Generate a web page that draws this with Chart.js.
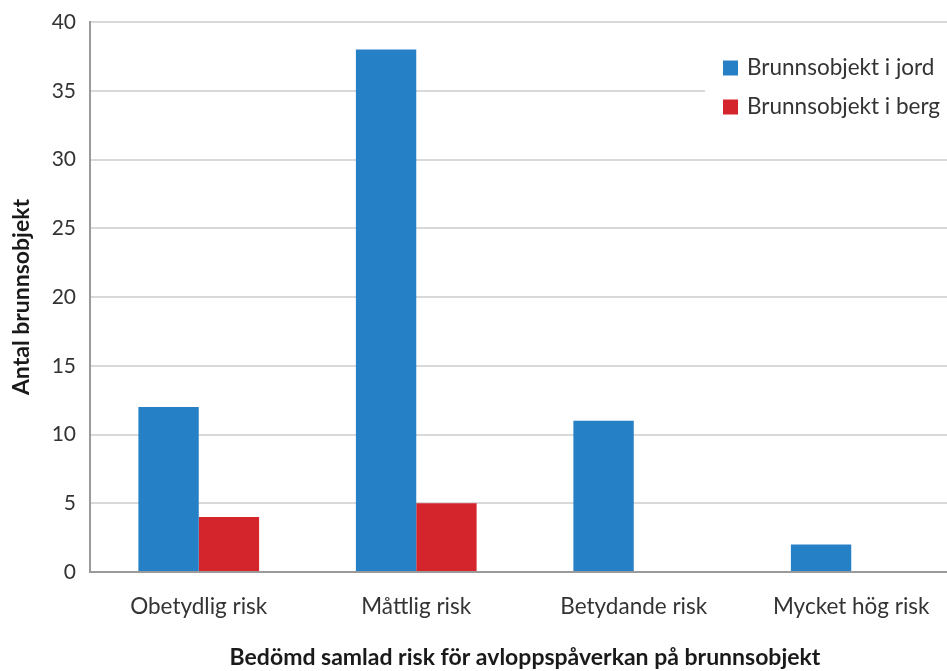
<!DOCTYPE html>
<html>
<head>
<meta charset="utf-8">
<script src="https://cdn.jsdelivr.net/npm/chart.js@4.4.1/dist/chart.umd.min.js"></script>
<style>
  html, body { margin: 0; padding: 0; background: #fff; overflow: hidden; }
  #wrap { width: 960px; height: 671px; position: relative; }
</style>
</head>
<body>
<div id="wrap"><canvas id="c"></canvas></div>
<script>
const categories = ['Obetydlig risk', 'Måttlig risk', 'Betydande risk', 'Mycket hög risk'];
const jordValues = [12, 38, 11, 2];
const bergValues = [4, 5, 0, 0];
const seriesNames = ['Brunnsobjekt i jord', 'Brunnsobjekt i berg'];
const yTicks = [0, 5, 10, 15, 20, 25, 30, 35, 40];
const xTitle = 'Bedömd samlad risk för avloppspåverkan på brunnsobjekt';
const yTitle = 'Antal brunnsobjekt';

const FONT = 'Lato, "Open Sans", sans-serif';
const TEXT = '#333333';

// Legend drawn as a white box inside the plot, top right
const boxLegend = {
  id: 'boxLegend',
  afterDatasetsDraw(chart) {
    const ctx = chart.ctx;
    ctx.save();
    ctx.fillStyle = '#ffffff';
    ctx.fillRect(705, 44, 260, 80);
    ctx.font = '22.5px ' + FONT;
    ctx.textBaseline = 'middle';
    ctx.textAlign = 'left';
    chart.data.datasets.forEach((ds, i) => {
      const y = 68 + i * 39;
      ctx.fillStyle = ds.backgroundColor;
      ctx.fillRect(723, y - 7.5, 15, 15);
      ctx.fillStyle = TEXT;
      ctx.fillText(ds.label, 747, y);
    });
    ctx.restore();
  }
};

new Chart(document.getElementById('c'), {
  type: 'bar',
  data: {
    labels: categories,
    datasets: [
      { label: seriesNames[0], data: jordValues, backgroundColor: '#2680c6' },
      { label: seriesNames[1], data: bergValues, backgroundColor: '#d4252d' }
    ]
  },
  options: {
    responsive: true,
    maintainAspectRatio: false,
    animation: false,
    layout: { padding: { top: 22, left: 0, right: 0, bottom: 0 } },
    datasets: { bar: { barPercentage: 1, categoryPercentage: 0.555 } },
    plugins: {
      legend: { display: false },
      tooltip: { enabled: false }
    },
    scales: {
      x: {
        grid: { display: false, drawTicks: false },
        border: { display: true, color: '#9a9a9a', width: 2 },
        ticks: { color: TEXT, font: { family: FONT, size: 22.5 }, padding: 21 },
        title: {
          display: true, text: xTitle, color: '#1a1a1a',
          font: { family: FONT, size: 23, weight: 'bold' },
          padding: { top: 24, bottom: 0 }
        },
        afterFit(scale) { scale.height = 99; scale.paddingLeft = 0; scale.paddingRight = 0; }
      },
      y: {
        min: 0, max: 40,
        afterBuildTicks(scale) { scale.ticks = yTicks.map(v => ({ value: v })); },
        grid: { color: '#d9d9d9', lineWidth: 2, drawTicks: false },
        border: { display: true, color: '#9a9a9a', width: 2 },
        ticks: { color: TEXT, font: { family: FONT, size: 21 }, padding: 14 },
        title: {
          display: true, text: yTitle, color: '#1a1a1a',
          font: { family: FONT, size: 23, weight: 'bold' },
          padding: { top: 8, bottom: 0 }
        },
        afterFit(scale) { scale.width = 90; scale.paddingTop = 0; scale.paddingBottom = 0; }
      }
    }
  },
  plugins: [boxLegend]
});
</script>
</body>
</html>
